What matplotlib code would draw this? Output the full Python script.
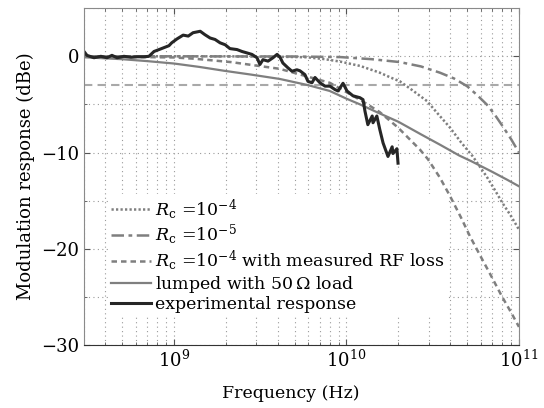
import numpy as np
import matplotlib
matplotlib.use("Agg")
import matplotlib.pyplot as plt
from matplotlib.ticker import LogLocator, MultipleLocator, NullFormatter

plt.rcParams["font.family"] = ["DejaVu Serif"]
plt.rcParams["mathtext.fontset"] = "dejavuserif"

# Frequencies in GHz, responses in dBe
f_rc4 = [0.3, 1.0, 2.0, 3.0, 4.5, 5.9, 7.5, 9.2, 12.0, 15.6, 18.0, 20.4, 24.0,
         29.3, 34.0, 39.8, 46.0, 54.0, 65.0, 72.0, 80.0, 90.0, 100.0]
r_rc4 = [0.0, 0.0, 0.0, -0.03, -0.06, -0.1, -0.3, -0.55, -1.0, -1.7, -2.2, -2.6, -3.5,
         -4.65, -6.0, -7.4, -8.9, -10.4, -12.5, -13.8, -15.2, -16.6, -18.0]

f_rc5 = [0.3, 1.0, 5.0, 9.2, 14.0, 20.4, 27.0, 34.8, 42.0, 50.0, 57.0, 65.0, 72.0,
         80.7, 90.0, 100.0]
r_rc5 = [0.0, 0.0, -0.02, -0.08, -0.3, -0.6, -1.05, -1.7, -2.3, -3.1, -4.0, -5.0, -6.0,
         -7.3, -8.6, -10.0]

f_rf = [0.3, 1.0, 1.31, 2.14, 4.1, 8.0, 10.9, 13.0, 15.6, 19.9, 26.7, 29.7, 34.8,
        39.8, 46.0, 52.0, 60.0, 68.0, 80.0, 90.0, 100.0]
r_rf = [0.0, -0.12, -0.25, -0.6, -1.3, -2.75, -4.1, -4.9, -5.8, -7.4, -9.7, -10.7, -12.6,
        -14.5, -16.7, -18.7, -20.8, -22.6, -25.0, -26.6, -28.1]

f_lump = [0.3, 0.5, 0.7, 1.0, 1.4, 1.95, 2.8, 4.1, 6.0, 8.0, 10.0, 12.0, 15.0, 20.0,
          27.0, 35.0, 45.0, 53.0, 70.0, 85.0, 100.0]
r_lump = [-0.1, -0.3, -0.5, -0.75, -1.1, -1.5, -1.9, -2.35, -3.0, -3.6, -4.4, -5.0, -5.8, -6.8,
          -8.1, -9.2, -10.3, -10.9, -12.0, -12.8, -13.5]

f_exp = [0.301, 0.313, 0.344, 0.377, 0.409, 0.437, 0.468, 0.513, 0.563, 0.610,
         0.670, 0.716, 0.766, 0.819, 0.875, 0.935, 0.97, 1.04, 1.13, 1.21,
         1.29, 1.42, 1.51, 1.62, 1.73, 1.85, 1.98, 2.11, 2.32, 2.48,
         2.65, 2.83, 3.03, 3.15, 3.28, 3.51, 3.75, 3.96, 4.12, 4.28,
         4.58, 4.83, 5.16, 5.37, 5.74, 5.98, 6.31, 6.57, 7.02, 7.51,
         8.02, 8.57, 8.93, 9.55, 10.07, 10.9, 11.97, 12.47, 12.8, 13.3,
         14.1, 14.25, 15.0, 15.6, 16.3, 17.4, 18.4, 18.6, 19.6, 19.9]
r_exp = [0.5, 0.1, -0.15, 0.0, -0.15, 0.1, -0.15, 0.0, -0.1, -0.05,
         -0.05, 0.0, 0.5, 0.7, 0.9, 1.1, 1.4, 1.8, 2.2, 2.1,
         2.45, 2.6, 2.25, 1.9, 1.75, 1.4, 1.2, 0.8, 0.7, 0.5,
         0.35, 0.2, -0.15, -0.85, -0.35, -0.5, -0.15, 0.2, -0.1, -0.7,
         -1.2, -1.55, -1.4, -1.5, -1.9, -2.6, -2.75, -2.2, -2.75, -3.1,
         -3.1, -3.45, -3.6, -2.8, -3.6, -4.1, -4.3, -4.5, -5.7, -7.1,
         -6.2, -6.9, -6.2, -7.6, -9.0, -10.4, -9.4, -10.1, -9.6, -11.1]

ref_3db = -3.0

labels = [r"$R_\mathrm{c}$ =10$^{-4}$",
          r"$R_\mathrm{c}$ =10$^{-5}$",
          r"$R_\mathrm{c}$ =10$^{-4}$ with measured RF loss",
          r"lumped with 50$\,\Omega$ load",
          "experimental response"]

GHz = 1e9
fig = plt.figure(figsize=(5.44, 4.08), dpi=100)
ax = fig.add_axes([0.154, 0.154, 0.800, 0.826])

gray = "#7f7f7f"
ax.axhline(ref_3db, color="#a9a9a9", lw=1.5, dashes=(4, 2.5), zorder=1)
ax.plot(np.array(f_rc4) * GHz, r_rc4, color=gray, lw=1.8, dashes=(0.9, 0.9), label=labels[0])
ax.plot(np.array(f_rc5) * GHz, r_rc5, color=gray, lw=1.8, dashes=(5, 1.8, 1.5, 1.8), label=labels[1])
ax.plot(np.array(f_rf) * GHz, r_rf, color=gray, lw=1.8, dashes=(2.2, 1.6), label=labels[2])
ax.plot(np.array(f_lump) * GHz, r_lump, color=gray, lw=1.6, label=labels[3])
ax.plot(np.array(f_exp) * GHz, r_exp, color="#262626", lw=2.2, label=labels[4])

ax.set_xscale("log")
ax.set_xlim(3e8, 1e11)
ax.set_ylim(-30, 5)
ax.xaxis.set_major_locator(LogLocator(base=10, numticks=10))
ax.xaxis.set_minor_locator(LogLocator(base=10, subs=np.arange(2, 10), numticks=20))
ax.xaxis.set_minor_formatter(NullFormatter())
ax.yaxis.set_major_locator(MultipleLocator(10))
ax.yaxis.set_minor_locator(MultipleLocator(5))

ax.grid(True, which="both", ls=(0, (1, 3)), color="#9a9a9a", lw=0.8)
ax.tick_params(which="both", direction="in", top=True, right=True, colors="#555555",
               labelcolor="black", labelsize=13)
ax.tick_params(which="major", length=4)
ax.tick_params(which="minor", length=2)
for side in ["left", "top", "right"]:
    ax.spines[side].set_color("#8a8a8a")
ax.spines["bottom"].set_color("#333333")

ax.set_xlabel("Frequency (Hz)", fontsize=12.5, labelpad=10)
ax.xaxis.label.set_x(0.476)
ax.set_ylabel("Modulation response (dBe)", fontsize=13, labelpad=4)

leg = ax.legend(loc="lower left", bbox_to_anchor=(0.055, 0.085), fontsize=12.5,
                frameon=True, framealpha=1, facecolor="white", edgecolor="none",
                fancybox=False, borderpad=0.2, borderaxespad=0, handlelength=2.3,
                handletextpad=0.2, labelspacing=0.08)

fig.savefig("out.png", dpi=100)
